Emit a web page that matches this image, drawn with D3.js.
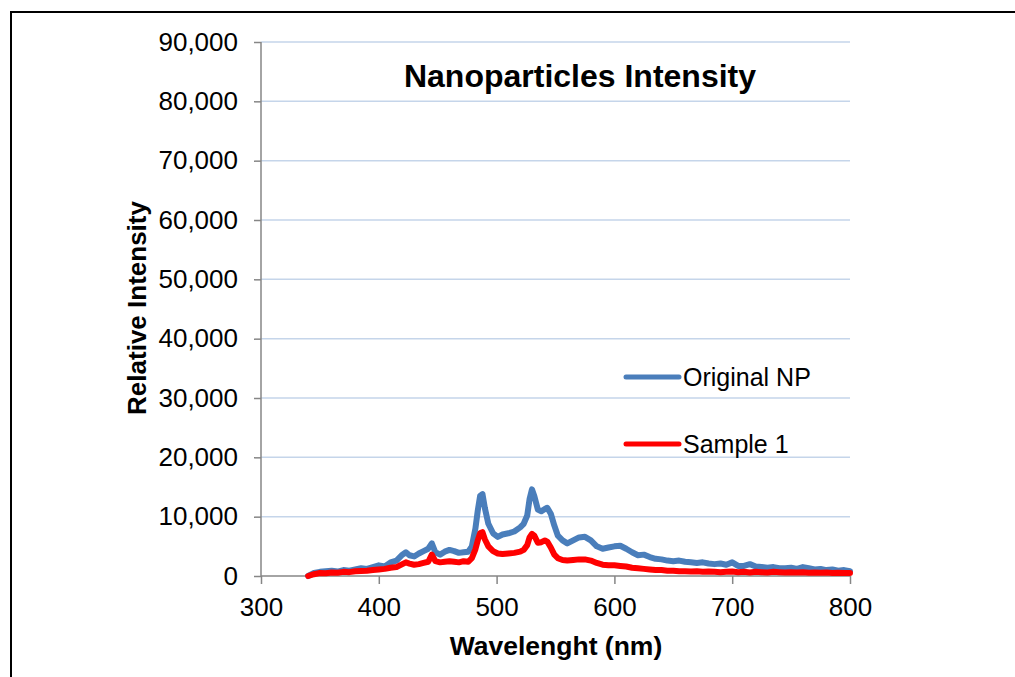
<!DOCTYPE html>
<html>
<head>
<meta charset="utf-8">
<script src="https://cdn.jsdelivr.net/npm/d3@7"></script>
<style>
  body { margin: 0; background: #fff; }
  svg { font-family: 'Liberation Sans', Arial, sans-serif; }
  .axis path, .axis line { stroke: #868686; stroke-width: 1.5; }
  .axis text { fill: #000; font-size: 26px; }
</style>
</head>
<body>
<div id="chart"></div>
<script>
// wavelength (nm)
const wavelength = [340, 345, 350, 355, 360, 365, 370, 375, 380, 385, 390, 395, 400, 405, 410, 415, 420, 423, 426, 430,
  434, 438, 442, 445, 448, 452, 456, 460, 464, 468, 472, 476, 479, 482, 484, 486, 488, 490, 493, 497,
  501, 505, 510, 515, 520, 523, 526, 528, 530, 532, 535, 538, 541, 543, 546, 549, 552, 556, 560, 565,
  570, 575, 580, 585, 590, 595, 600, 605, 610, 615, 620, 625, 630, 635, 640, 645, 650, 655, 660, 665,
  670, 675, 680, 685, 690, 695, 700, 705, 710, 715, 720, 725, 730, 735, 740, 745, 750, 755, 760, 765,
  770, 775, 780, 785, 790, 795, 800];

const originalNP = [0, 500, 700, 800, 900, 750, 1000, 900, 1100, 1300, 1200, 1500, 1800, 1600, 2300, 2600, 3600, 4000, 3500, 3300,
  3800, 4200, 4600, 5500, 4000, 3600, 4100, 4400, 4200, 3900, 4000, 4100, 5000, 8000, 11000, 13500, 13800, 11500, 8800, 7200,
  6600, 7000, 7200, 7500, 8200, 8800, 10200, 13000, 14600, 13500, 11200, 10900, 11300, 11500, 10500, 8500, 6800, 6000, 5500, 6000,
  6500, 6600, 6000, 5000, 4600, 4800, 5000, 5100, 4600, 4000, 3500, 3600, 3200, 2900, 2800, 2600, 2500, 2600, 2400, 2300,
  2200, 2300, 2100, 2000, 2100, 1900, 2300, 1700, 1700, 2000, 1600, 1500, 1400, 1500, 1300, 1300, 1400, 1200, 1500, 1300,
  1100, 1200, 1000, 1100, 900, 1000, 800];

const sample1 = [0, 300, 500, 450, 600, 550, 700, 650, 800, 850, 900, 1000, 1100, 1200, 1400, 1500, 2000, 2300, 2100, 1900,
  2000, 2200, 2400, 3600, 2500, 2300, 2400, 2500, 2400, 2300, 2500, 2400, 3000, 4500, 6000, 7200, 7400, 6200, 5000, 4200,
  3800, 3700, 3800, 3900, 4100, 4400, 5200, 6500, 7100, 6800, 5600, 5700, 6000, 5800, 4800, 3600, 3000, 2700, 2600, 2700,
  2800, 2800, 2600, 2200, 1900, 1800, 1800, 1700, 1600, 1400, 1300, 1200, 1100, 1000, 1000, 900, 900, 800, 800, 750,
  800, 700, 750, 700, 650, 700, 750, 650, 700, 600, 700, 650, 600, 700, 650, 600, 650, 600, 650, 550,
  600, 550, 600, 500, 550, 500, 500];

const xTicks = [300, 400, 500, 600, 700, 800];
const yTicks = [0, 10000, 20000, 30000, 40000, 50000, 60000, 70000, 80000, 90000];

const series = [
  { name: 'Original NP', values: originalNP, color: '#4a7ebb' },
  { name: 'Sample 1', values: sample1, color: '#ff0000' },
];

const width = 1015;
const height = 677;
const margin = { top: 42, right: 165, bottom: 101, left: 261 };
const plotW = width - margin.left - margin.right;
const plotH = height - margin.top - margin.bottom;

const svg = d3.select('#chart').append('svg')
  .attr('width', width)
  .attr('height', height);

// outer chart frame
svg.append('path')
  .attr('d', `M11,${height} L11,12 L${width},12`)
  .attr('fill', 'none')
  .attr('stroke', '#000')
  .attr('stroke-width', 2);

const g = svg.append('g').attr('transform', `translate(${margin.left},${margin.top})`);

const x = d3.scaleLinear().domain([300, 800]).range([0, plotW]);
const y = d3.scaleLinear().domain([0, 90000]).range([plotH, 0]);

// gridlines
g.append('g')
  .selectAll('line')
  .data(yTicks.slice(1))
  .enter().append('line')
  .attr('x1', 0)
  .attr('x2', plotW)
  .attr('y1', d => y(d))
  .attr('y2', d => y(d))
  .attr('stroke', '#c5d5ea')
  .attr('stroke-width', 1.5);

const yAxis = g.append('g')
  .attr('class', 'axis')
  .call(d3.axisLeft(y).tickValues(yTicks).tickSize(7).tickPadding(16).tickFormat(d3.format(',')));
yAxis.select('.domain').attr('d', `M0,0V${plotH}`);

const xAxis = g.append('g')
  .attr('class', 'axis')
  .attr('transform', `translate(0,${plotH})`)
  .call(d3.axisBottom(x).tickValues(xTicks).tickSize(8).tickPadding(14).tickFormat(d3.format('d')));
xAxis.select('.domain').attr('d', `M0,0H${plotW}`);

const line = d3.line()
  .x((d, i) => x(wavelength[i]))
  .y(d => y(d));

g.selectAll('.series')
  .data(series)
  .enter().append('path')
  .attr('class', 'series')
  .attr('d', d => line(d.values))
  .attr('fill', 'none')
  .attr('stroke', d => d.color)
  .attr('stroke-width', 6)
  .attr('stroke-linejoin', 'round')
  .attr('stroke-linecap', 'round');

// legend
const legend = svg.append('g');
series.forEach((s, i) => {
  const ly = 377 + i * 67;
  legend.append('line')
    .attr('x1', 626).attr('x2', 679)
    .attr('y1', ly).attr('y2', ly)
    .attr('stroke', s.color)
    .attr('stroke-width', 5)
    .attr('stroke-linecap', 'round');
  legend.append('text')
    .attr('x', 683)
    .attr('y', ly + 9)
    .style('font-size', '25px')
    .text(s.name);
});

// titles
svg.append('text')
  .attr('x', 580)
  .attr('y', 87)
  .attr('text-anchor', 'middle')
  .style('font-size', '32px')
  .style('font-weight', 'bold')
  .text('Nanoparticles Intensity');

svg.append('text')
  .attr('transform', 'translate(146,308) rotate(-90)')
  .attr('text-anchor', 'middle')
  .style('font-size', '26px')
  .style('font-weight', 'bold')
  .text('Relative Intensity');

svg.append('text')
  .attr('x', 556)
  .attr('y', 655)
  .attr('text-anchor', 'middle')
  .style('font-size', '26.5px')
  .style('font-weight', 'bold')
  .text('Wavelenght (nm)');
</script>
</body>
</html>
